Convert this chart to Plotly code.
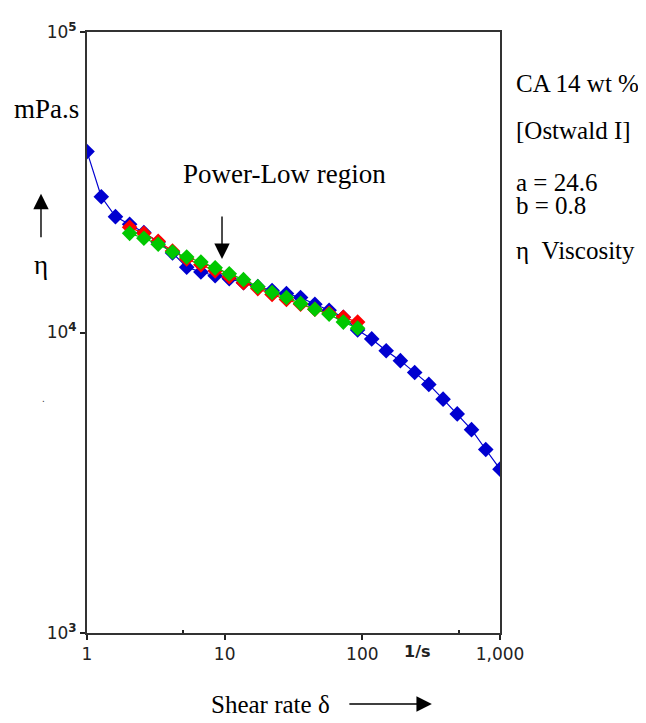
import plotly.graph_objects as go

# Shear rate grid (1/s)
shear_blue = [1, 1.27, 1.61, 2.04, 2.59, 3.29, 4.18, 5.3, 6.72, 8.53, 10.8, 13.7, 17.4, 22.1, 28.1,
              35.6, 45.2, 57.4, 72.8, 92.4, 117, 149, 189, 240, 304, 386, 489, 621, 788, 1000]
visc_blue = [40000, 28300, 24300, 22900, 21500, 20000, 18400, 16500, 15900, 15450, 15100, 14650, 14210,
             13790, 13480, 13080, 12410, 11860, 11240, 10190, 9520, 8695, 8060, 7360, 6720, 6000, 5360,
             4750, 4080, 3510]

shear_rg = [2.04, 2.59, 3.29, 4.18, 5.3, 6.72, 8.53, 10.8, 13.7, 17.4, 22.1, 28.1, 35.6, 45.2, 57.4, 72.8, 92.4]
visc_red = [22380, 21380, 20130, 18660, 17570, 16790, 16040, 15330, 14650, 14000, 13380, 12880, 12410,
            11950, 11590, 11240, 10830]
visc_green = [21380, 20590, 19670, 18520, 17840, 17170, 16410, 15680, 14990, 14210, 13580, 13080, 12500,
              11950, 11500, 10830, 10340]

x_ticks = [1, 10, 100, 1000]
x_ticktext = ["1", "10", "100", "1,000"]
y_ticks = [1e3, 1e4, 1e5]
y_ticktext = ["10<sup><b>3</b></sup>", "10<sup><b>4</b></sup>", "10<sup><b>5</b></sup>"]

fig = go.Figure()
fig.add_trace(go.Scatter(x=shear_blue, y=visc_blue, mode="lines+markers",
                         line=dict(color="#0000d0", width=1.2),
                         marker=dict(symbol="diamond", size=12, color="#0000d0"), showlegend=False))
fig.add_trace(go.Scatter(x=shear_rg, y=visc_red, mode="lines+markers",
                         line=dict(color="#ff0000", width=1.2),
                         marker=dict(symbol="diamond", size=12, color="#ff0000"), showlegend=False))
fig.add_trace(go.Scatter(x=shear_rg, y=visc_green, mode="lines+markers",
                         line=dict(color="#00c800", width=1.2),
                         marker=dict(symbol="diamond", size=12, color="#00c800"), showlegend=False))

serif = dict(family="Liberation Serif", size=27, color="black")
serif_r = dict(family="Liberation Serif", size=25, color="black")


def txt(x, y, s, xanchor="center", font=serif):
    fig.add_annotation(x=x, y=y, xref="paper", yref="paper", text=s, showarrow=False,
                       xanchor=xanchor, yanchor="middle", font=font)


txt(-0.097, 0.872, "mPa.s")
txt(-0.111, 0.612, "η")
txt(0.477, 0.763, "Power-Low region")
txt(1.034, 0.915, "CA 14 wt %", xanchor="left", font=serif_r)
txt(1.034, 0.836, "[Ostwald I]", xanchor="left", font=serif_r)
txt(1.034, 0.749, "a = 24.6", xanchor="left", font=serif_r)
txt(1.034, 0.711, "b = 0.8", xanchor="left", font=serif_r)
txt(1.034, 0.636, "η  Viscosity", xanchor="left", font=serif_r)
txt(0.4455, -0.1182, "Shear rate δ", font=serif_r)
txt(-0.106, 0.391, ".", font=dict(family="Liberation Sans", size=10, color="#333"))
txt(0.801, -0.031, "<b>1/s</b>", font=dict(family="DejaVu Sans", size=16, color="#222"))


def arrow(x, y, ax, ay):
    fig.add_annotation(x=x, y=y, xref="paper", yref="paper", ax=ax, ay=ay, text="",
                       showarrow=True, arrowhead=2, arrowsize=2.2, arrowwidth=1.4, arrowcolor="black")


arrow(-0.1114, 0.7307, 0, 45)
arrow(0.3269, 0.6223, 0, -44)
arrow(0.835, -0.1182, -84, 0)

fig.update_xaxes(type="log", range=[0, 3], tickvals=x_ticks, ticktext=x_ticktext,
                 ticks="outside", ticklen=5, tickwidth=1.5, tickcolor="#222",
                 showline=True, linecolor="#333", linewidth=2, mirror=True, showgrid=False,
                 zeroline=False, tickfont=dict(family="DejaVu Sans", size=17, color="#222"),
                 minor=dict(tickvals=[5, 500], ticks="inside", ticklen=3, tickcolor="#222"))
fig.update_yaxes(type="log", range=[3, 5], tickvals=y_ticks, ticktext=y_ticktext,
                 ticks="outside", ticklen=5, tickwidth=1.5, tickcolor="#222",
                 showline=True, linecolor="#333", linewidth=2, mirror=True, showgrid=False,
                 zeroline=False, tickfont=dict(family="DejaVu Sans", size=17, color="#222"))

# page body adds an 8px offset, so the figure is sized/placed to compensate
fig.update_layout(width=638, height=715, margin=dict(l=79, r=146, t=16, b=90),
                  paper_bgcolor="white", plot_bgcolor="white")

fig.write_html("out.html")
